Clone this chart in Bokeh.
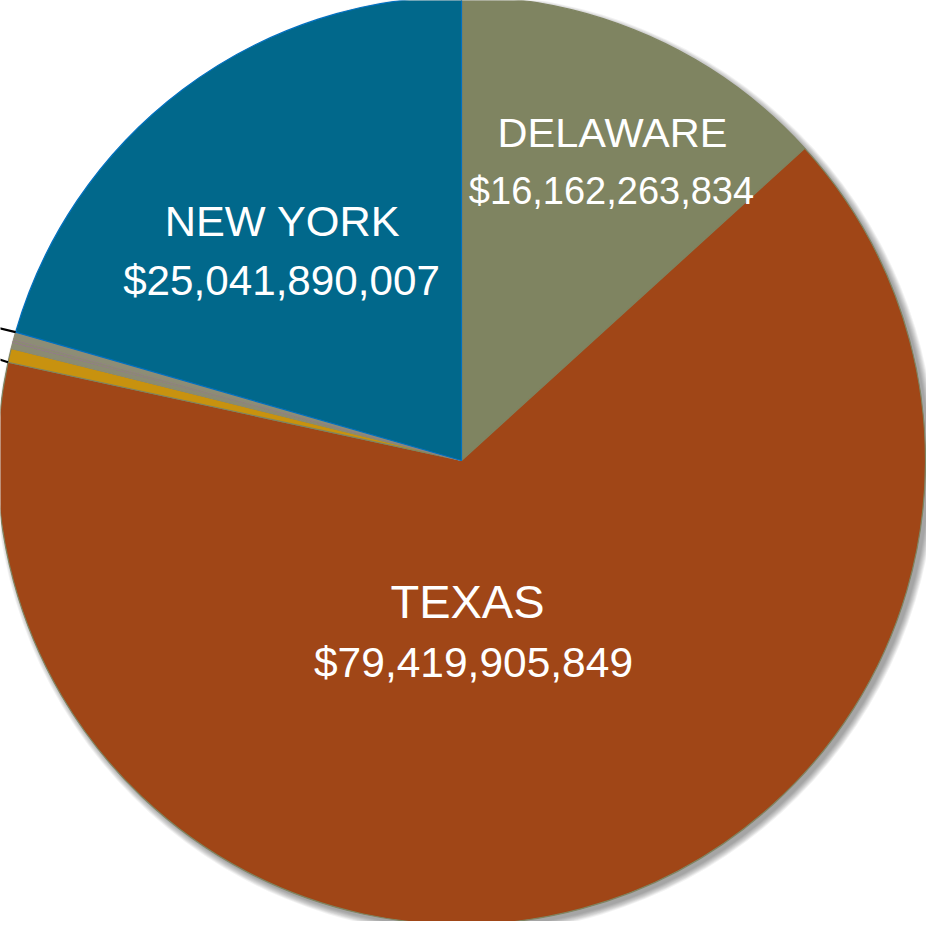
import numpy as np
from bokeh.plotting import figure
from bokeh.models import Range1d, ColumnDataSource
from bokeh.embed import file_html
from bokeh.resources import INLINE
from bokeh.core.properties import value

# ---- data (clockwise from 12 o'clock) ----
states = ["DELAWARE", "TEXAS", "OTHER 1", "OTHER 2", "OTHER 3", "OTHER 4", "OTHER 5", "OTHER 6", "NEW YORK"]
amounts = [16162263834, 79419905849, 600000000, 270000000, 15000000, 100000000, 15000000, 300000000, 25041890007]
colors = ["#7f8461", "#a04617", "#c8920f", "#8b8b73", "#9c6e9c", "#8b8b73", "#9c6e9c", "#8d8d76", "#01688b"]
edge_colors = ["#7f8461", "#7f8461", "#7f8461", "#8b8b73", "#9c6e9c", "#8b8b73", "#9c6e9c", "#8d8d76", "#0070c0"]
labelled = ["DELAWARE", "NEW YORK", "TEXAS"]

# ---- layout ----
W, H = 926, 921
PAGE_H = 937
cx, cy_screen, R = 469, 468, 464
cy = PAGE_H - cy_screen

amounts_arr = np.array(amounts, dtype=float)
frac = amounts_arr / amounts_arr.sum()
cum = np.concatenate([[0], np.cumsum(frac)])
start = np.pi / 2 - 2 * np.pi * cum[:-1]
end = np.pi / 2 - 2 * np.pi * cum[1:]

src = ColumnDataSource(dict(state=states, amount=amounts, start=start, end=end,
                            color=colors, edge=edge_colors))

p = figure(width=W, height=H, x_range=Range1d(8, 8 + W), y_range=Range1d(PAGE_H - 8 - H, PAGE_H - 8),
           toolbar_location=None, output_backend="svg", min_border=0)
p.axis.visible = False
p.grid.visible = False
p.outline_line_color = None
p.background_fill_color = "white"
p.border_fill_color = "white"

# soft shadow
for k in range(8):
    p.circle(x=[cx + 4], y=[cy - 4], radius=R + k * 0.9, fill_color="black",
             fill_alpha=0.05, line_color=None)

p.wedge(x=cx, y=cy, radius=R, start_angle="start", end_angle="end", direction="clock",
        fill_color="color", line_color="edge", line_width=1.2, source=src)

# leader lines (labels lie outside the visible area)
i_ny = states.index("NEW YORK")
i_tx = states.index("TEXAS")
anchors = [start[i_ny], end[i_tx]]
slopes = [0.245, 0.33]
for a, s in zip(anchors, slopes):
    ax_, ay_ = cx + R * np.cos(a), cy + R * np.sin(a)
    p.line(x=[ax_, ax_ - 60], y=[ay_, ay_ + 60 * s], line_color="black", line_width=2.2)

# labels
name_x = [620, 290, 475]
val_x = [619, 289, 481]
name_y_screen = [140, 228, 609]
val_y_screen = [198, 288, 670]
name_sizes = ["41.5px", "43.3px", "47px"]
val_sizes = ["38px", "42.2px", "42.5px"]
for st, nx, vx, ny_, vy_, nfs, vfs in zip(labelled, name_x, val_x, name_y_screen, val_y_screen,
                                          name_sizes, val_sizes):
    amt = amounts[states.index(st)]
    p.text(x=[nx], y=[PAGE_H - ny_], text=[st], text_color="white",
           text_font=value("Liberation Sans"), text_font_size=nfs,
           text_align="center", text_baseline="middle")
    p.text(x=[vx], y=[PAGE_H - vy_], text=["${:,}".format(amt)], text_color="white",
           text_font=value("Liberation Sans"), text_font_size=vfs,
           text_align="center", text_baseline="middle")

open("out.html", "w").write(file_html(p, INLINE))
